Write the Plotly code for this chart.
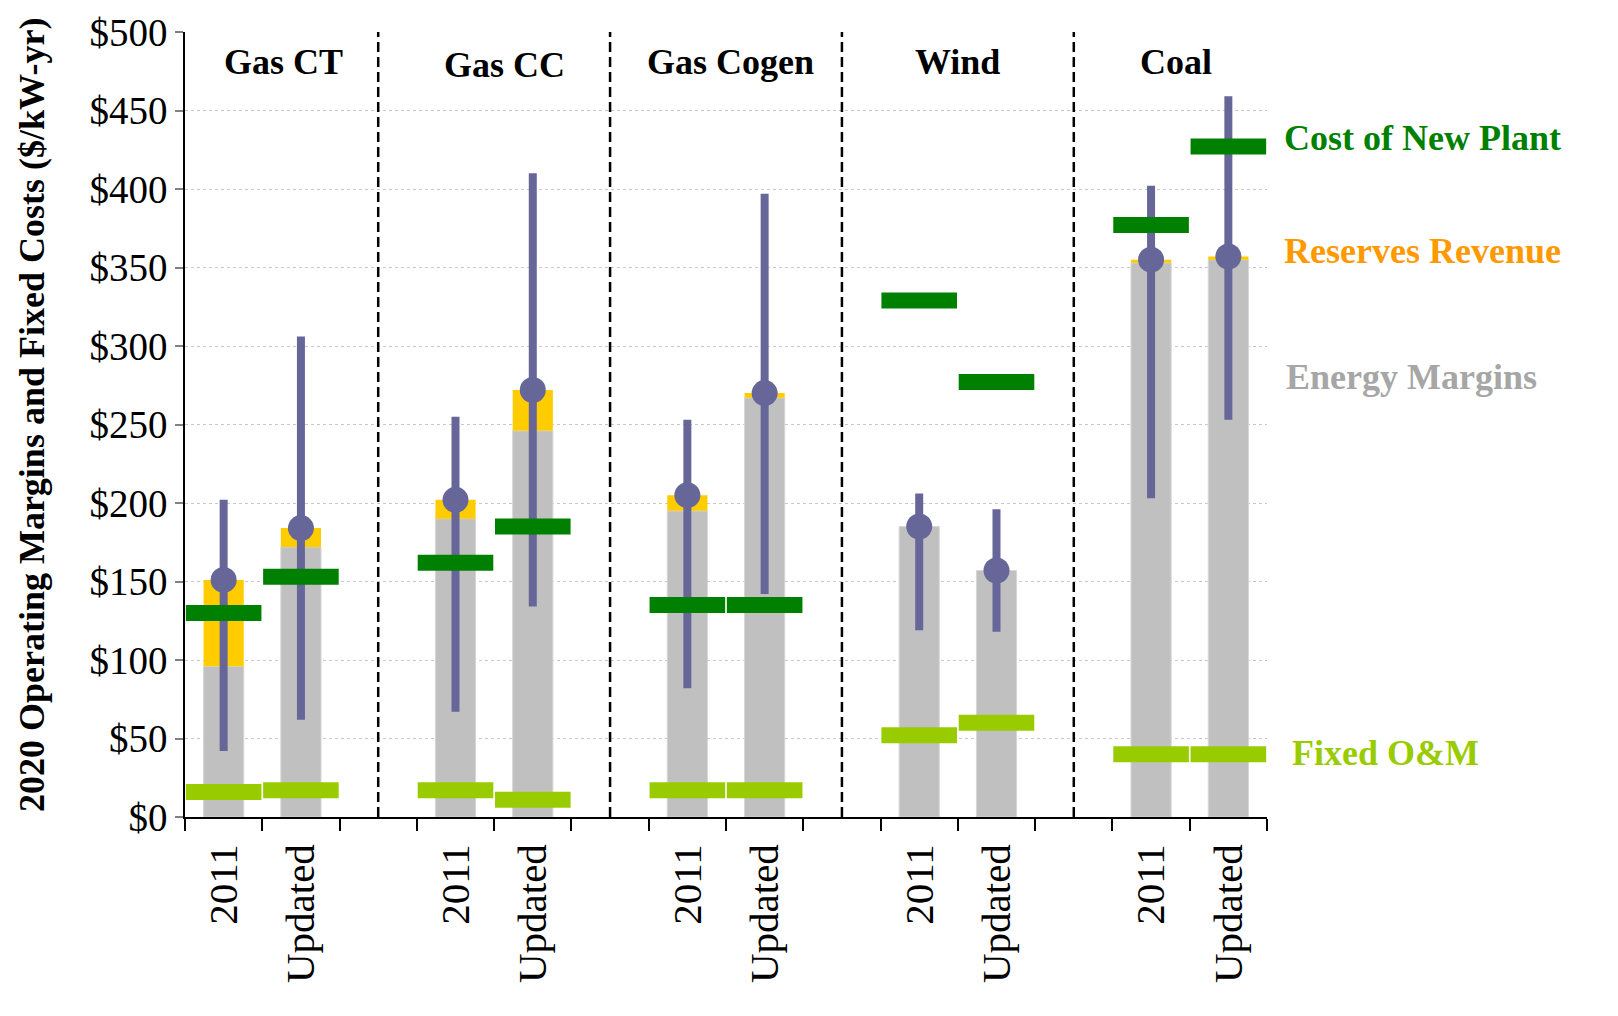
import plotly.graph_objects as go

# ---- data ----
groups = ["Gas CT", "Gas CC", "Gas Cogen", "Wind", "Coal"]
cases = ["2011", "Updated"]
energy_margins = [96, 172, 190, 246, 195, 267, 185, 157, 353, 355]
reserves_revenue = [55, 12, 12, 26, 10, 3, 0, 0, 2, 2]
range_low = [42, 62, 67, 134, 82, 142, 119, 118, 203, 253]
range_high = [202, 306, 255, 410, 253, 397, 206, 196, 402, 459]
cost_new_plant = [130, 153, 162, 185, 135, 135, 329, 277, 377, 427]
fixed_om = [16, 17, 17, 11, 17, 17, 52, 60, 40, 40]
y_ticks = [0, 50, 100, 150, 200, 250, 300, 350, 400, 450, 500]

# slot positions: each group takes 3 slots (2 bars + 1 spacer)
xpos = [3 * g + k for g in range(len(groups)) for k in range(len(cases))]
xlabels = [c for g in groups for c in cases]
totals = [e + r for e, r in zip(energy_margins, reserves_revenue)]
err_plus = [h - t for h, t in zip(range_high, totals)]
err_minus = [t - l for t, l in zip(totals, range_low)]

FONT = "Liberation Serif"
fig = go.Figure()

fig.add_trace(go.Bar(x=xpos, y=energy_margins, base=[0] * len(xpos), width=0.52,
                     marker=dict(color="#C0C0C0", line=dict(color="#D6D6D6", width=1)),
                     name="Energy Margins"))
fig.add_trace(go.Bar(x=xpos, y=reserves_revenue, base=energy_margins, width=0.52,
                     marker=dict(color="#FFCC00", line=dict(width=0)),
                     name="Reserves Revenue"))
fig.add_trace(go.Scatter(x=xpos, y=fixed_om, mode="markers",
                         marker=dict(symbol="line-ew", size=54,
                                     line=dict(color="#99CC00", width=16)),
                         name="Fixed O&M"))
fig.add_trace(go.Scatter(x=xpos, y=totals, mode="markers",
                         marker=dict(symbol="circle", size=26, color="#666699"),
                         error_y=dict(type="data", symmetric=False, array=err_plus,
                                      arrayminus=err_minus, width=0, thickness=8,
                                      color="#666699"),
                         name="Total"))
fig.add_trace(go.Scatter(x=xpos, y=cost_new_plant, mode="markers",
                         marker=dict(symbol="line-ew", size=54,
                                     line=dict(color="#008000", width=16)),
                         name="Cost of New Plant"))

# group separators
for g in range(1, len(groups)):
    fig.add_shape(type="line", xref="x", yref="paper", x0=3 * g - 1, x1=3 * g - 1,
                  y0=0, y1=1, line=dict(color="black", width=2.5, dash="10px,5px"))

# group labels
group_label_x = [0.78, 3.64, 6.56, 9.5, 12.32]
group_label_y = [0.962, 0.958, 0.962, 0.962, 0.962]
for name, gx, gy in zip(groups, group_label_x, group_label_y):
    fig.add_annotation(x=gx, y=gy, xref="x", yref="paper", text=name, showarrow=False,
                       xanchor="center", yanchor="middle",
                       font=dict(family=FONT, size=36, color="black", weight="bold"))

# right-side legend labels
legend_labels = [("Cost of New Plant", "#008000", 1.0139, 0.865),
                 ("Reserves Revenue", "#FF9900", 1.0139, 0.721),
                 ("Energy Margins", "#A6A6A6", 1.0157, 0.561),
                 ("Fixed O&M", "#99CC00", 1.0213, 0.0815)]
for txt, col, lx, ly in legend_labels:
    fig.add_annotation(x=lx, y=ly, xref="paper", yref="paper", text=txt, showarrow=False,
                       xanchor="left", yanchor="middle",
                       font=dict(family=FONT, size=36, color=col, weight="bold"))

# y-axis title
fig.add_annotation(x=-0.1414, y=0.512, xref="paper", yref="paper",
                   text="2020 Operating Margins and Fixed Costs ($/kW-yr)",
                   textangle=-90, showarrow=False, xanchor="center", yanchor="middle",
                   font=dict(family=FONT, size=36, color="black", weight="bold"))

# page body has an 8px default margin; offset plot margins to compensate
fig.update_layout(
    width=1618, height=1016,
    margin=dict(l=177, r=359, t=24, b=207),
    paper_bgcolor="white", plot_bgcolor="white",
    barmode="overlay", showlegend=False,
    font=dict(family=FONT, color="black"),
    xaxis=dict(range=[-0.5, 13.5], tickmode="array", tickvals=xpos, ticktext=xlabels,
               tickangle=-90, ticks="outside", ticklen=9, tickcolor="rgba(0,0,0,0)",
               tickfont=dict(family=FONT, size=41, color="black"), automargin=False,
               ticklabeloverflow="allow",
               showgrid=False, zeroline=False, showline=True, linecolor="black",
               linewidth=1.5,
               minor=dict(tickmode="linear", tick0=-0.5, dtick=1, ticks="outside",
                          ticklen=12, tickcolor="black", tickwidth=1.5, showgrid=False)),
    yaxis=dict(range=[0, 500], tickmode="array", tickvals=y_ticks,
               ticktext=["$" + str(v) for v in y_ticks], automargin=False,
               ticklabeloverflow="allow",
               ticks="outside", ticklen=8, tickcolor="#808080", tickwidth=1.5,
               tickfont=dict(family=FONT, size=39, color="black"),
               showgrid=True, gridcolor="#C8C8C8", gridwidth=1, griddash="dot",
               zeroline=False, showline=True, linecolor="black", linewidth=1.5),
)

fig.write_html("out.html")
